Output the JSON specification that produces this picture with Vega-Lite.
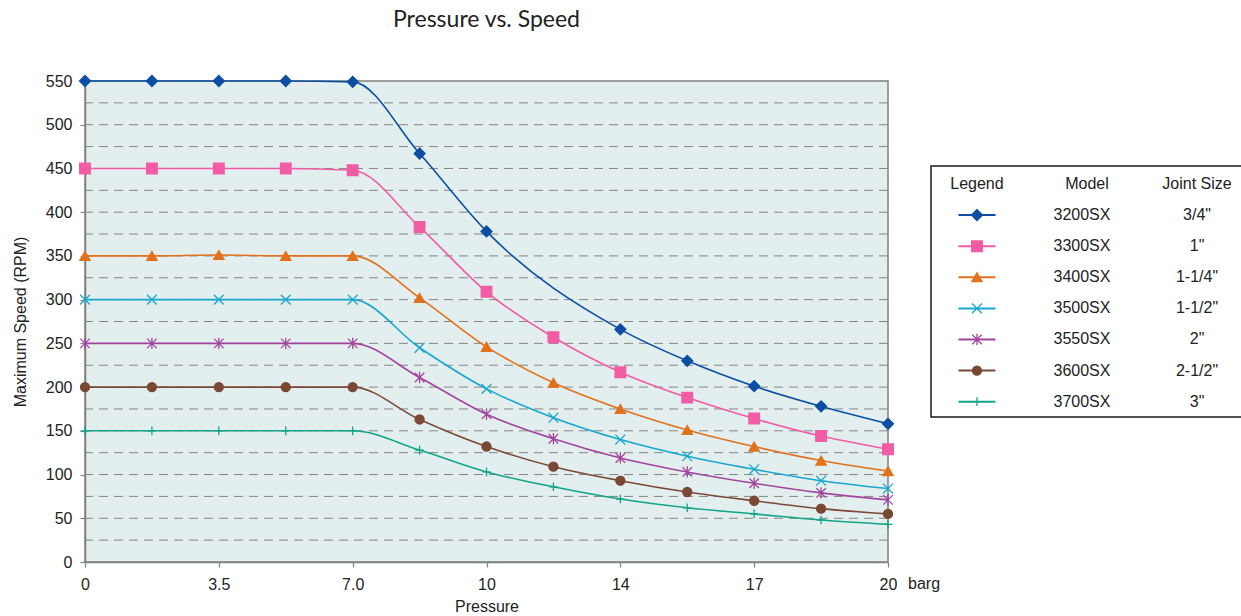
{
  "$schema": "https://vega.github.io/schema/vega-lite/v6.json",
  "background": "white",
  "padding": {"left": 11, "top": 8, "right": 0, "bottom": 0},
  "config": {"font": "Liberation Sans", "text": {"font": "Liberation Sans"}},
  "datasets": {
    "speed": [
      {"model":"3200SX","pressure":"0","speed":550},{"model":"3200SX","pressure":"1.75","speed":550},{"model":"3200SX","pressure":"3.5","speed":550},{"model":"3200SX","pressure":"5.25","speed":550},{"model":"3200SX","pressure":"7.0","speed":549},{"model":"3200SX","pressure":"8.5","speed":467},{"model":"3200SX","pressure":"10","speed":378},{"model":"3200SX","pressure":"14","speed":266},{"model":"3200SX","pressure":"15.5","speed":230},{"model":"3200SX","pressure":"17","speed":201},{"model":"3200SX","pressure":"18.5","speed":178},{"model":"3200SX","pressure":"20","speed":158},
      {"model":"3300SX","pressure":"0","speed":450},{"model":"3300SX","pressure":"1.75","speed":450},{"model":"3300SX","pressure":"3.5","speed":450},{"model":"3300SX","pressure":"5.25","speed":450},{"model":"3300SX","pressure":"7.0","speed":448},{"model":"3300SX","pressure":"8.5","speed":383},{"model":"3300SX","pressure":"10","speed":309},{"model":"3300SX","pressure":"12","speed":257},{"model":"3300SX","pressure":"14","speed":217},{"model":"3300SX","pressure":"15.5","speed":188},{"model":"3300SX","pressure":"17","speed":164},{"model":"3300SX","pressure":"18.5","speed":144},{"model":"3300SX","pressure":"20","speed":129},
      {"model":"3400SX","pressure":"0","speed":350},{"model":"3400SX","pressure":"1.75","speed":350},{"model":"3400SX","pressure":"3.5","speed":351},{"model":"3400SX","pressure":"5.25","speed":350},{"model":"3400SX","pressure":"7.0","speed":350},{"model":"3400SX","pressure":"8.5","speed":302},{"model":"3400SX","pressure":"10","speed":246},{"model":"3400SX","pressure":"12","speed":205},{"model":"3400SX","pressure":"14","speed":175},{"model":"3400SX","pressure":"15.5","speed":151},{"model":"3400SX","pressure":"17","speed":132},{"model":"3400SX","pressure":"18.5","speed":116},{"model":"3400SX","pressure":"20","speed":104},
      {"model":"3500SX","pressure":"0","speed":300},{"model":"3500SX","pressure":"1.75","speed":300},{"model":"3500SX","pressure":"3.5","speed":300},{"model":"3500SX","pressure":"5.25","speed":300},{"model":"3500SX","pressure":"7.0","speed":300},{"model":"3500SX","pressure":"8.5","speed":245},{"model":"3500SX","pressure":"10","speed":198},{"model":"3500SX","pressure":"12","speed":165},{"model":"3500SX","pressure":"14","speed":140},{"model":"3500SX","pressure":"15.5","speed":121},{"model":"3500SX","pressure":"17","speed":106},{"model":"3500SX","pressure":"18.5","speed":93},{"model":"3500SX","pressure":"20","speed":84},
      {"model":"3550SX","pressure":"0","speed":250},{"model":"3550SX","pressure":"1.75","speed":250},{"model":"3550SX","pressure":"3.5","speed":250},{"model":"3550SX","pressure":"5.25","speed":250},{"model":"3550SX","pressure":"7.0","speed":250},{"model":"3550SX","pressure":"8.5","speed":211},{"model":"3550SX","pressure":"10","speed":169},{"model":"3550SX","pressure":"12","speed":141},{"model":"3550SX","pressure":"14","speed":119},{"model":"3550SX","pressure":"15.5","speed":103},{"model":"3550SX","pressure":"17","speed":90},{"model":"3550SX","pressure":"18.5","speed":79},{"model":"3550SX","pressure":"20","speed":71},
      {"model":"3600SX","pressure":"0","speed":200},{"model":"3600SX","pressure":"1.75","speed":200},{"model":"3600SX","pressure":"3.5","speed":200},{"model":"3600SX","pressure":"5.25","speed":200},{"model":"3600SX","pressure":"7.0","speed":200},{"model":"3600SX","pressure":"8.5","speed":163},{"model":"3600SX","pressure":"10","speed":132},{"model":"3600SX","pressure":"12","speed":109},{"model":"3600SX","pressure":"14","speed":93},{"model":"3600SX","pressure":"15.5","speed":80},{"model":"3600SX","pressure":"17","speed":70},{"model":"3600SX","pressure":"18.5","speed":61},{"model":"3600SX","pressure":"20","speed":55},
      {"model":"3700SX","pressure":"0","speed":150},{"model":"3700SX","pressure":"1.75","speed":150},{"model":"3700SX","pressure":"3.5","speed":150},{"model":"3700SX","pressure":"5.25","speed":150},{"model":"3700SX","pressure":"7.0","speed":150},{"model":"3700SX","pressure":"8.5","speed":128},{"model":"3700SX","pressure":"10","speed":103},{"model":"3700SX","pressure":"12","speed":86},{"model":"3700SX","pressure":"14","speed":72},{"model":"3700SX","pressure":"15.5","speed":62},{"model":"3700SX","pressure":"17","speed":55},{"model":"3700SX","pressure":"18.5","speed":48},{"model":"3700SX","pressure":"20","speed":43}
    ],
    "models": [
      {"model":"3200SX","size":"3/4\""},
      {"model":"3300SX","size":"1\""},
      {"model":"3400SX","size":"1-1/4\""},
      {"model":"3500SX","size":"1-1/2\""},
      {"model":"3550SX","size":"2\""},
      {"model":"3600SX","size":"2-1/2\""},
      {"model":"3700SX","size":"3\""}
    ],
    "gridlines": [
      {"rpm":25},{"rpm":50},{"rpm":75},{"rpm":100},{"rpm":125},{"rpm":150},{"rpm":175},{"rpm":200},{"rpm":225},{"rpm":250},{"rpm":275},{"rpm":300},{"rpm":325},{"rpm":350},{"rpm":375},{"rpm":400},{"rpm":425},{"rpm":450},{"rpm":475},{"rpm":500},{"rpm":525}
    ]
  },
  "bounds": "flush",
  "spacing": 43,
  "hconcat": [
    {
      "width": 803,
      "height": 481,
      "title": {"text": "Pressure vs. Speed", "font": "Lato", "fontSize": 23, "fontWeight": "normal", "color": "#222222", "offset": 41, "anchor": "middle"},
      "view": {"fill": "#e3efef", "stroke": "#808080", "strokeWidth": 1.5},
      "layer": [
        {
          "data": {"name": "gridlines"},
          "mark": {"type": "rule", "strokeDash": [9, 6], "color": "#858585", "strokeWidth": 1},
          "encoding": {
            "y": {"field": "rpm", "type": "quantitative",
              "scale": {"domain": [0, 550], "nice": false, "zero": true},
              "axis": {"title": "Maximum Speed (RPM)",
                "values": [0,50,100,150,200,250,300,350,400,450,500,550],
                "labelOverlap": false, "labelFlush": false, "grid": false,
                "tickSize": 5, "tickColor": "#808080", "tickWidth": 1.2, "domainColor": "#808080", "domainWidth": 1.5,
                "labelFont": "Liberation Sans", "labelFontSize": 16, "labelColor": "#222222", "labelPadding": 8,
                "titleFont": "Liberation Sans", "titleFontSize": 16, "titleFontWeight": "normal", "titleColor": "#222222", "titlePadding": 17}}
          }
        },
        {
          "data": {"name": "speed"},
          "mark": {"type": "line", "interpolate": "monotone", "strokeWidth": 1.6},
          "encoding": {
            "x": {"field": "pressure", "type": "ordinal",
              "scale": {"type": "point", "padding": 0, "domain": ["0","1.75","3.5","5.25","7.0","8.5","10","12","14","15.5","17","18.5","20"]},
              "axis": {"title": "Pressure", "labelAngle": 0, "labelOverlap": false, "labelFlush": false,
                "labelExpr": "indexof(['0','3.5','7.0','10','14','17','20'], datum.value) >= 0 ? datum.label : ''",
                "tickOpacity": {"condition": {"test": "indexof(['0','3.5','7.0','10','14','17','20'], datum.value) < 0", "value": 0}, "value": 1},
                "tickSize": 5, "tickColor": "#808080", "tickWidth": 1.2, "domainColor": "#808080", "domainWidth": 1.5,
                "labelFont": "Liberation Sans", "labelFontSize": 16, "labelColor": "#222222", "labelPadding": 9,
                "titleFont": "Liberation Sans", "titleFontSize": 16, "titleFontWeight": "normal", "titleColor": "#222222", "titlePadding": 6, "grid": false}},
            "y": {"field": "speed", "type": "quantitative"},
            "color": {"field": "model", "type": "nominal",
              "scale": {"domain": ["3200SX","3300SX","3400SX","3500SX","3550SX","3600SX","3700SX"], "range": ["#0b4ea2","#f15ca5","#e2711d","#17a7cf","#a2459d","#7a4936","#12a589"]},
              "legend": null},
            "order": {"value": null}
          }
        },
        {
          "data": {"name": "speed"},
          "mark": {"type": "point", "filled": true, "opacity": 1, "strokeWidth": 1.3},
          "encoding": {
            "x": {"field": "pressure", "type": "ordinal"},
            "y": {"field": "speed", "type": "quantitative"},
            "color": {"field": "model", "type": "nominal", "legend": null},
            "stroke": {"field": "model", "type": "nominal",
              "scale": {"domain": ["3200SX","3300SX","3400SX","3500SX","3550SX","3600SX","3700SX"], "range": ["#0b4ea2","#f15ca5","#e2711d","#17a7cf","#a2459d","#7a4936","#12a589"]},
              "legend": null},
            "shape": {"field": "model", "type": "nominal",
              "scale": {"domain": ["3200SX","3300SX","3400SX","3500SX","3550SX","3600SX","3700SX"], "range": ["diamond","square","triangle-up","M-1,-1L1,1M-1,1L1,-1","M-1,-1L1,1M-1,1L1,-1M0,-1.2L0,1.2","circle","M-1,0H1M0,-1V1"]},
              "legend": null},
            "size": {"field": "model", "type": "nominal",
              "scale": {"domain": ["3200SX","3300SX","3400SX","3500SX","3550SX","3600SX","3700SX"], "range": [120, 75, 95, 30, 34, 22, 40]},
              "legend": null}
          }
        },
        {
          "data": {"values": [{"unit": "barg"}]},
          "mark": {"type": "text", "align": "left", "baseline": "middle", "dx": 20, "dy": 22, "fontSize": 16, "color": "#222222", "font": "Liberation Sans"},
          "encoding": {
            "x": {"datum": "20", "type": "ordinal"},
            "y": {"datum": 0, "type": "quantitative"},
            "text": {"field": "unit"}
          }
        }
      ]
    },
    {
      "bounds": "flush",
      "spacing": 0,
      "vconcat": [
        {
          "width": 316,
          "height": 85,
          "view": {"stroke": null},
          "data": {"values": [{}]},
          "mark": {"type": "point", "opacity": 0},
          "encoding": {}
        },
        {
          "width": 316,
          "height": 251,
          "view": {"fill": "white", "stroke": "#1a1a1a", "strokeWidth": 1.5},
          "layer": [
            {
              "data": {"values": [{"h": "Legend"}, {"h": "Model"}, {"h": "Joint Size"}]},
              "mark": {"type": "text", "fontSize": 16, "color": "#222222", "baseline": "middle", "font": "Liberation Sans"},
              "encoding": {
                "x": {"field": "h", "type": "nominal", "scale": {"type": "point", "domain": ["Legend","Model","Joint Size"], "padding": 0.436, "align": 0.479}, "axis": null},
                "y": {"datum": "header", "type": "nominal", "scale": {"type": "point", "domain": ["header","3200SX","3300SX","3400SX","3500SX","3550SX","3600SX","3700SX"], "padding": 0.535, "align": 0.54}, "axis": null},
                "text": {"field": "h"}
              }
            },
            {
              "data": {"name": "models"},
              "mark": {"type": "point", "shape": "M-1,0H1", "filled": false, "strokeWidth": 2, "opacity": 1, "size": 1369},
              "encoding": {
                "x": {"datum": "Legend", "type": "nominal"},
                "y": {"field": "model", "type": "nominal"},
                "color": {"field": "model", "type": "nominal", "scale": {"domain": ["3200SX","3300SX","3400SX","3500SX","3550SX","3600SX","3700SX"], "range": ["#0b4ea2","#f15ca5","#e2711d","#17a7cf","#a2459d","#7a4936","#12a589"]}, "legend": null}
              }
            },
            {
              "data": {"name": "models"},
              "mark": {"type": "point", "filled": true, "opacity": 1, "strokeWidth": 1.3},
              "encoding": {
                "x": {"datum": "Legend", "type": "nominal"},
                "y": {"field": "model", "type": "nominal"},
                "color": {"field": "model", "type": "nominal", "legend": null},
                "stroke": {"field": "model", "type": "nominal", "scale": {"domain": ["3200SX","3300SX","3400SX","3500SX","3550SX","3600SX","3700SX"], "range": ["#0b4ea2","#f15ca5","#e2711d","#17a7cf","#a2459d","#7a4936","#12a589"]}, "legend": null},
                "shape": {"field": "model", "type": "nominal", "scale": {"domain": ["3200SX","3300SX","3400SX","3500SX","3550SX","3600SX","3700SX"], "range": ["diamond","square","triangle-up","M-1,-1L1,1M-1,1L1,-1","M-1,-1L1,1M-1,1L1,-1M0,-1.2L0,1.2","circle","M-1,0H1M0,-1V1"]}, "legend": null},
                "size": {"field": "model", "type": "nominal", "scale": {"domain": ["3200SX","3300SX","3400SX","3500SX","3550SX","3600SX","3700SX"], "range": [120, 75, 95, 30, 34, 22, 40]}, "legend": null}
              }
            },
            {
              "data": {"name": "models"},
              "mark": {"type": "text", "fontSize": 16, "color": "#222222", "baseline": "middle", "font": "Liberation Sans", "dx": -5},
              "encoding": {
                "x": {"datum": "Model", "type": "nominal"},
                "y": {"field": "model", "type": "nominal"},
                "text": {"field": "model"}
              }
            },
            {
              "data": {"name": "models"},
              "mark": {"type": "text", "fontSize": 16, "color": "#222222", "baseline": "middle", "font": "Liberation Sans"},
              "encoding": {
                "x": {"datum": "Joint Size", "type": "nominal"},
                "y": {"field": "model", "type": "nominal"},
                "text": {"field": "size"}
              }
            }
          ]
        }
      ]
    }
  ]
}
